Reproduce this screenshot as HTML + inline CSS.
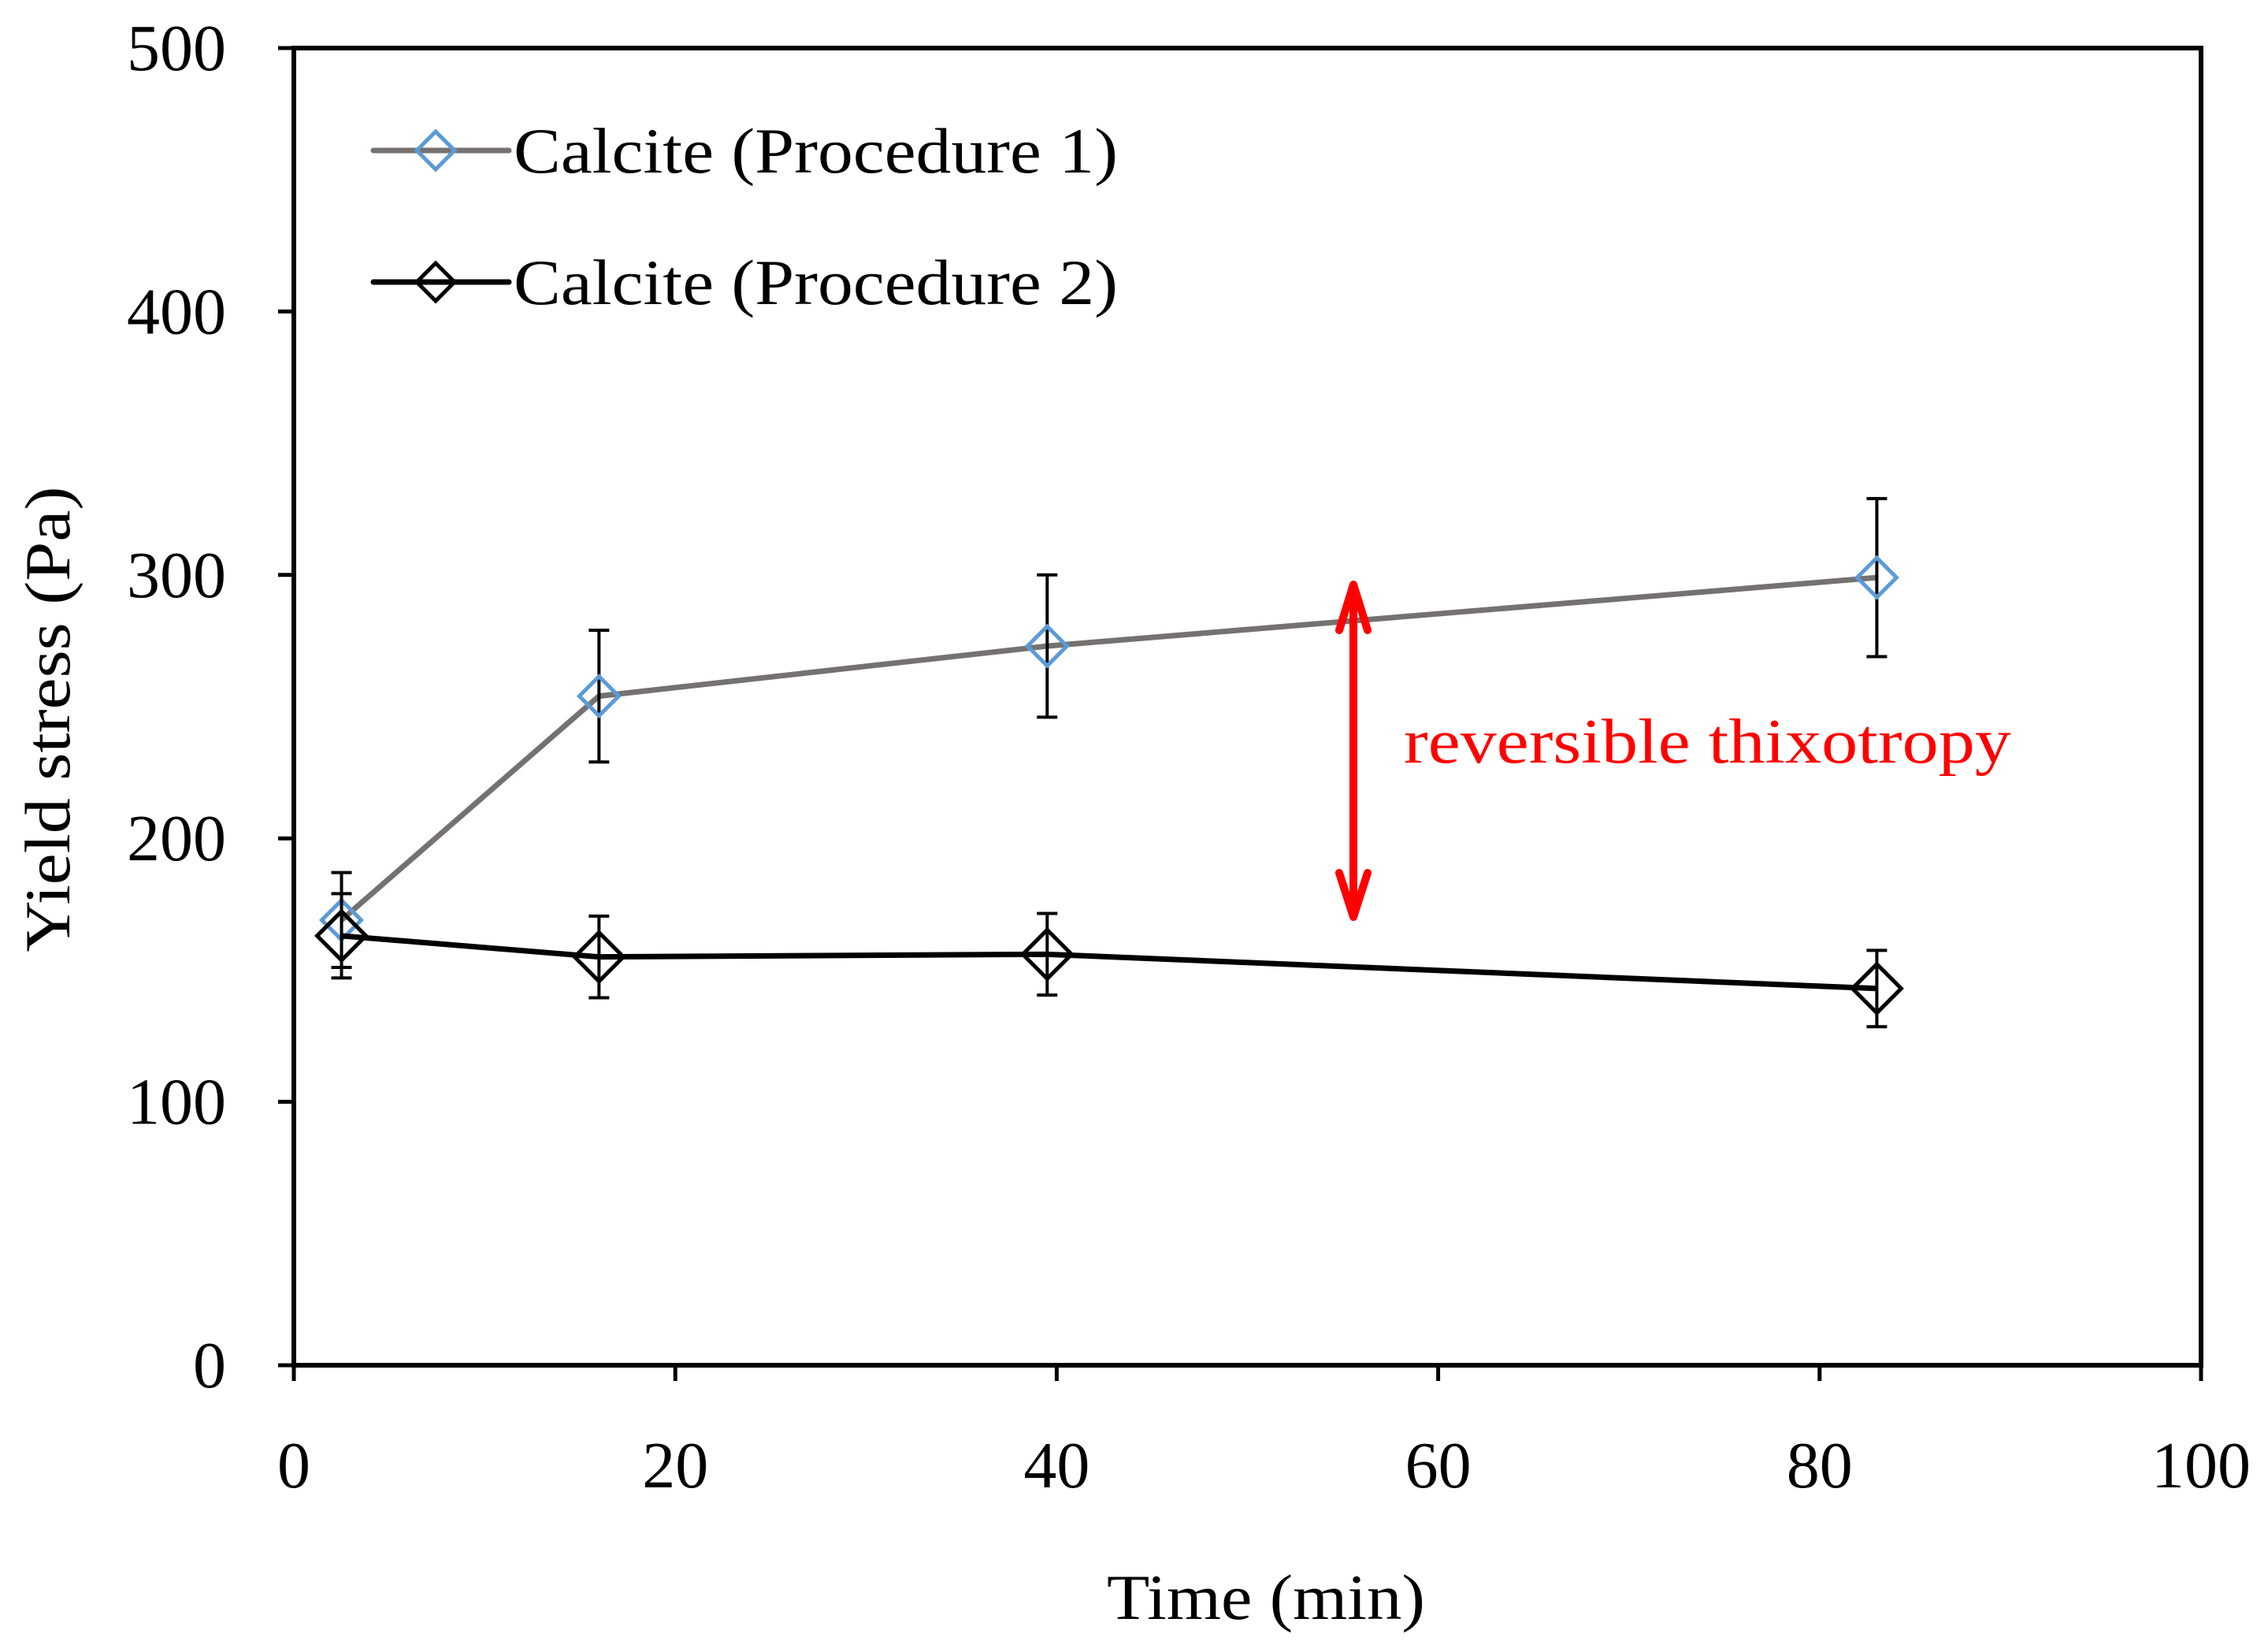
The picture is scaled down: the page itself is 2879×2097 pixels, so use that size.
<!DOCTYPE html>
<html><head><meta charset="utf-8"><style>
html,body{margin:0;padding:0;background:#fff;}
svg{display:block;}
text{font-family:"Liberation Serif",serif;}
</style></head><body>
<svg id="chart" width="2879" height="2097" viewBox="0 0 2879 2097" xmlns="http://www.w3.org/2000/svg">
<rect x="0" y="0" width="2879" height="2097" fill="#fff"/>
<g id="axes"></g>
<g id="series"></g>
<g id="legend">
  <line x1="474" y1="191" x2="646" y2="191" stroke="#767171" stroke-width="7" stroke-linecap="round"/>
  <polygon points="553,167 577,191 553,215 529,191" fill="none" stroke="#5B9BD5" stroke-width="5"/>
  <text x="652" y="219" font-size="82" textLength="767" lengthAdjust="spacingAndGlyphs">Calcite (Procedure 1)</text>
  <line x1="474" y1="358" x2="646" y2="358" stroke="#000" stroke-width="7" stroke-linecap="round"/>
  <polygon points="553,334 577,358 553,382 529,358" fill="none" stroke="#000" stroke-width="5"/>
  <text x="652" y="386" font-size="82" textLength="767" lengthAdjust="spacingAndGlyphs">Calcite (Procedure 2)</text>
</g>
<text x="1607" y="2055" font-size="82" text-anchor="middle" textLength="404" lengthAdjust="spacingAndGlyphs">Time (min)</text>
<text x="0" y="0" font-size="82" text-anchor="middle" textLength="591" lengthAdjust="spacingAndGlyphs" transform="translate(88,913) rotate(-90)">Yield stress (Pa)</text>
<g>
  <line x1="1718" y1="745" x2="1718" y2="1158" stroke="#f00" stroke-width="10"/>
  <polyline points="1700,800 1718,742 1736,800" fill="none" stroke="#f00" stroke-width="10" stroke-linecap="round" stroke-linejoin="round"/>
  <polyline points="1700,1108 1718,1164 1736,1108" fill="none" stroke="#f00" stroke-width="10" stroke-linecap="round" stroke-linejoin="round"/>
  <text x="1782" y="968" font-size="80" fill="#f00" textLength="771" lengthAdjust="spacingAndGlyphs">reversible thixotropy</text>
</g>
</svg>
<script>
const xTicks = [0, 20, 40, 60, 80, 100];
const yTicks = [0, 100, 200, 300, 400, 500];
const times = [2.5, 16, 39.5, 83];
const proc1 = [169, 254, 273, 299];
const proc1Err = [18, 25, 27, 30];
const proc2 = [163, 155, 156, 143];
const proc2Err = [16, 15.5, 15.5, 14.5];

const L = 373, R = 2794, T = 61, B = 1733;
const xs = v => L + (v - 0) / 100 * (R - L);
const ys = v => B - (v - 0) / 500 * (B - T);
const NS = 'http://www.w3.org/2000/svg';
function mk(tag, attrs, parent) {
  const e = document.createElementNS(NS, tag);
  for (const k in attrs) e.setAttribute(k, attrs[k]);
  parent.appendChild(e);
  return e;
}
const axes = document.getElementById('axes');
const frame = mk('rect', {x: L, y: T, width: R - L, height: B - T, fill: 'none', stroke: '#000', 'stroke-width': 6}, axes);


xTicks.forEach(t => {
  const x = xs(t);
  const tk = mk('line', {x1: x, y1: B, x2: x, y2: B + 20, stroke: '#000', 'stroke-width': 5}, axes);
  
  
  const lb = mk('text', {x: x, y: 1888, 'font-size': 84, 'text-anchor': 'middle'}, axes);
  lb.textContent = t;
  
  
});
yTicks.forEach(t => {
  const y = ys(t);
  const tk = mk('line', {x1: L - 20, y1: y, x2: L, y2: y, stroke: '#000', 'stroke-width': 5}, axes);
  
  
  const lb = mk('text', {x: 287, y: y + 28, 'font-size': 84, 'text-anchor': 'end'}, axes);
  lb.textContent = t;
  
  
});
const series = document.getElementById('series');
function drawSeries(vals, errs, lineColor, markColor, size, name) {
  const g = mk('g', {}, series);
  
  
  const pl = mk('polyline', {points: times.map((t, i) => xs(t) + ',' + ys(vals[i])).join(' '), fill: 'none', stroke: lineColor, 'stroke-width': 7, 'stroke-linejoin': 'round'}, g);
  
  
  times.forEach((t, i) => {
    const x = xs(t), y1 = ys(vals[i] + errs[i]), y2 = ys(vals[i] - errs[i]);
    const eb = mk('path', {d: `M${x},${y1}V${y2}M${x-13},${y1}H${x+13}M${x-13},${y2}H${x+13}`, stroke: '#000', 'stroke-width': 4, fill: 'none'}, g);
    
    
  });
  times.forEach((t, i) => {
    const x = xs(t), y = ys(vals[i]);
    const m = mk('polygon', {points: `${x},${y-size} ${x+size},${y} ${x},${y+size} ${x-size},${y}`, fill: 'none', stroke: markColor, 'stroke-width': 5}, g);
    
    
  });
}
drawSeries(proc1, proc1Err, '#767171', '#5B9BD5', 25, 'procedure-1-series');
drawSeries(proc2, proc2Err, '#000', '#000', 31, 'procedure-2-series');
</script>
</body></html>
